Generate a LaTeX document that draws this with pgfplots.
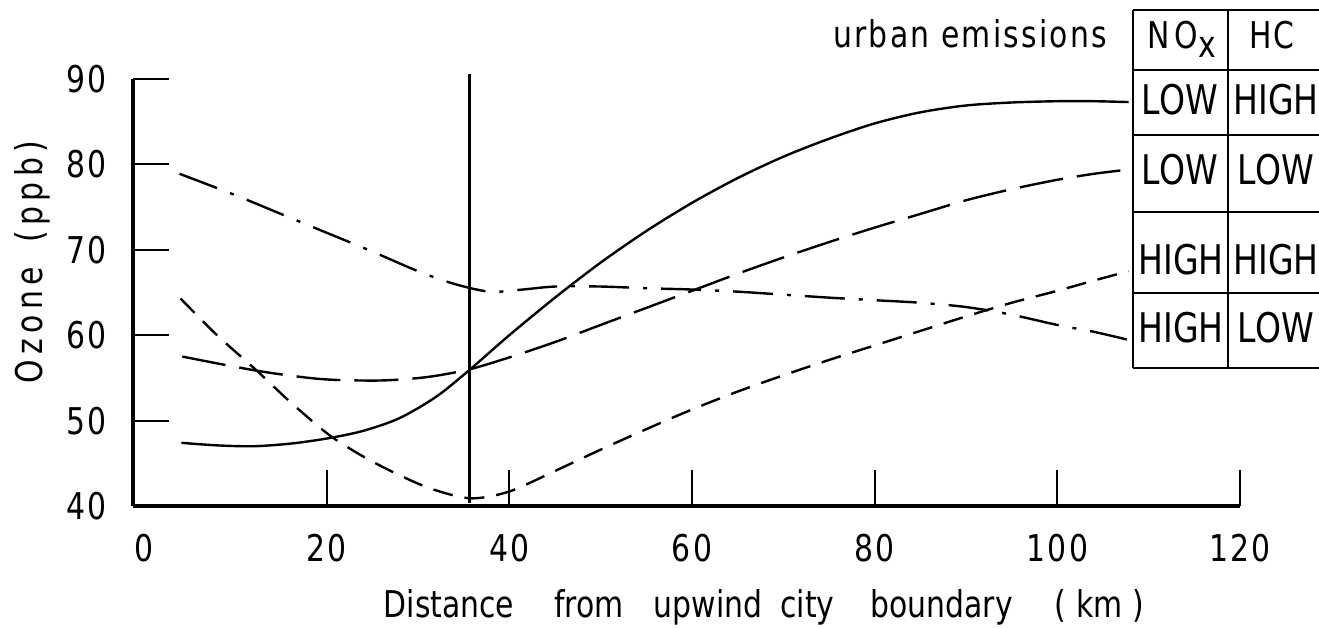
\documentclass[border=0pt]{standalone}
\usepackage{fontspec}
\setmainfont{DejaVu Sans}[FakeStretch=0.81]
\newfontfamily\spaced{DejaVu Sans}[FakeStretch=0.81, LetterSpace=15]
\newfontfamily\spacedb{DejaVu Sans}[FakeStretch=0.81, LetterSpace=6]
\usepackage{pgfplots}
\pgfplotsset{compat=1.18}
\begin{document}
\begin{tikzpicture}
\useasboundingbox (0,0) rectangle (659.5bp,-314bp);
\begin{axis}[
  at={(66.5bp,-253bp)}, anchor=south west,
  scale only axis, width=553.5bp, height=213.5bp,
  xmin=-1.2, xmax=120, ymin=40, ymax=90,
  clip=false,
  axis lines=left,
  axis line style={-, line width=1.7bp},
  tick align=inside,
  major tick length=18bp,
  every tick/.style={black, line width=1bp},
  xtick={20,40,...,120},
  ytick={40,50,...,90},
  extra x ticks={0},
  extra x tick style={tick style={draw=none}},
  /pgf/number format/assume math mode=true,
  tick label style={font=\spacedb\fontsize{18.5}{20}\selectfont},
  xticklabel style={anchor=center, inner sep=0pt, yshift=-21bp},
  yticklabel style={anchor=east, inner sep=0pt, xshift=-13bp},
  xlabel={Distance\hspace{20bp}from\hspace{15bp}upwind\hspace{9bp}city\hspace{18bp}boundary\hspace{21bp}(\hspace{5bp}km\hspace{5bp})},
  xlabel style={at={(axis description cs:0.570,-0.260)}, anchor=base, inner sep=0pt, font=\fontsize{18.5}{20}\selectfont},
  ylabel={\spaced Ozone\hspace{12bp}(ppb)},
  ylabel style={at={(axis description cs:-0.0822,0.5714)}, anchor=base, inner sep=0pt, font=\fontsize{18.5}{20}\selectfont},
]
% vertical marker line
\addplot[black, line width=1.6bp] coordinates {(35.6,40.4) (35.6,90.6)};
% LOW NOx, HIGH HC (solid)
\addplot[black, line width=1.2bp, smooth] coordinates {
(4.1,47.4)(8,47.1)(12,47.0)(16,47.3)(20,47.9)(24,48.8)(28,50.3)(32,52.8)
(35.6,55.9)(40,60.0)(45,64.4)(50,68.5)(55,72.2)(60,75.5)(65,78.4)(70,80.9)
(75,83.0)(80,84.8)(85,86.1)(90,86.9)(95,87.25)(100,87.4)(104,87.4)(107.8,87.3)};
% LOW NOx, LOW HC (long dashed)
\addplot[black, line width=1.2bp, smooth, dash pattern=on 22bp off 7bp] coordinates {
(4.2,57.5)(8.5,56.6)(12.6,55.8)(16.5,55.2)(20.3,54.8)(26,54.7)(31,55.1)(35.6,56.0)
(40,57.4)(45,59.2)(50,61.2)(55,63.2)(60,65.2)(65,67.2)(70,69.1)(75,70.9)(80,72.6)
(85,74.2)(90,75.8)(95,77.1)(100,78.2)(104,78.9)(107.8,79.4)};
% HIGH NOx, HIGH HC (short dashed)
\addplot[black, line width=1.2bp, smooth, dash pattern=on 10bp off 6bp] coordinates {
(4.0,64.3)(8,60.0)(12.2,56.0)(16,52.2)(20.3,48.3)(24,45.8)(27.6,43.8)(31.5,42.0)
(35.8,40.9)(40,41.7)(45,44.1)(50,46.6)(55,49.0)(60,51.3)(65,53.4)(70,55.3)
(75,57.1)(80,58.8)(85,60.5)(90,62.2)(95,63.8)(100,65.2)(104,66.4)(107.8,67.5)};
% HIGH NOx, LOW HC (dash-dot)
\addplot[black, line width=1.2bp, smooth, dash pattern=on 20bp off 7bp on 2bp off 7bp] coordinates {
(3.9,78.9)(10,76.4)(15,74.2)(20,72.0)(25,69.8)(30,67.5)(34,66.0)(37.8,65.1)(41,65.3)
(45,65.7)(50,65.7)(55,65.5)(60,65.35)(65,65.1)(70,64.75)(75,64.4)(80,64.1)(85,63.8)
(90,63.3)(95,62.4)(100,61.2)(104,60.4)(107.6,59.5)};
\end{axis}
\begin{scope}[x=0.5bp, y=-0.5bp, line width=1.1bp]
\draw (1133,10) -- (1133,368);
\draw (1228,10) -- (1228,368);
\foreach \yy in {10,70,135,212,293,368} {\draw (1133,\yy) -- (1319,\yy);}
\node[anchor=base east, inner sep=0pt, font=\spacedb\fontsize{18.5}{20}\selectfont] at (1108,47) {urban emissions};
\node[anchor=base west, inner sep=0pt, font=\spaced\fontsize{18.5}{20}\selectfont] at (1146,48) {NO\raisebox{-0.45ex}{x}};
\node[anchor=base, inner sep=0pt, font=\spacedb\fontsize{18.5}{20}\selectfont] at (1272,48) {HC};
\begin{scope}[every node/.style={anchor=base, inner sep=0pt, font=\fontsize{20.5}{22}\selectfont}]
\node at (1180,115) {LOW};  \node at (1276,115) {HIGH};
\node at (1180,185) {LOW};  \node at (1276,185) {LOW};
\node at (1181,275) {HIGH}; \node at (1276,275) {HIGH};
\node at (1181,343) {HIGH}; \node at (1276,343) {LOW};
\end{scope}
\end{scope}
\end{tikzpicture}
\end{document}
